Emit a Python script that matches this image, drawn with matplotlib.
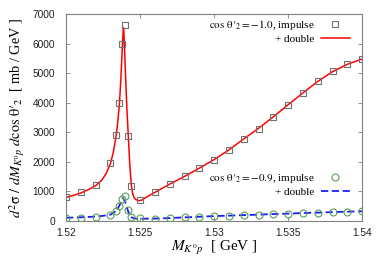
import matplotlib
matplotlib.use('Agg')
import matplotlib.pyplot as plt
from matplotlib.lines import Line2D

########################################################### Data ###########################################################

# impulse points, cos theta'_2 = -1.0 (squares) and -0.9 (circles)
pt_x = [1.520, 1.521, 1.522, 1.523, 1.5234, 1.5236, 1.5238, 1.5240, 1.5242, 1.5244,
        1.525, 1.526, 1.527, 1.528, 1.529, 1.530, 1.531, 1.532, 1.533, 1.534,
        1.535, 1.536, 1.537, 1.538, 1.539, 1.540]
sq_y = [800, 970, 1230, 1960, 2900, 3990, 5990, 6640, 2890, 1180,
        710, 975, 1255, 1510, 1785, 2080, 2410, 2775, 3125, 3535,
        3935, 4350, 4745, 5075, 5335, 5495]
ci_y = [100, 115, 145, 205, 345, 495, 745, 835, 365, 130,
        85, 80, 100, 124, 147, 169, 182, 203, 214, 237,
        250, 270, 283, 304, 316, 328]

# impulse + double curves
red_x = [1.5200, 1.5205, 1.5210, 1.5215, 1.5220, 1.5224, 1.5227, 1.5230, 1.5232, 1.5234,
         1.5235, 1.5236, 1.5237, 1.5238, 1.52387, 1.5239, 1.5240, 1.5241, 1.5242, 1.5243,
         1.5244, 1.5245, 1.5246, 1.5247, 1.5249, 1.5251, 1.5255, 1.5260, 1.527, 1.528,
         1.529, 1.530, 1.531, 1.532, 1.533, 1.534, 1.535, 1.536, 1.537, 1.538,
         1.539, 1.540]
red_y = [800, 870, 950, 1060, 1200, 1380, 1600, 1950, 2350, 2950,
         3400, 3950, 4800, 5900, 6550, 6450, 5150, 3900, 2900, 1950,
         1250, 920, 790, 730, 690, 705, 830, 970, 1250, 1510,
         1790, 2080, 2410, 2780, 3140, 3530, 3940, 4340, 4730, 5060,
         5310, 5490]

blue_x = [1.520, 1.521, 1.522, 1.5225, 1.523, 1.5233, 1.5235, 1.5237, 1.52385, 1.5240,
          1.5241, 1.5242, 1.5243, 1.5244, 1.5246, 1.5248, 1.525, 1.526, 1.527, 1.528,
          1.529, 1.530, 1.531, 1.532, 1.533, 1.534, 1.535, 1.536, 1.537, 1.538,
          1.539, 1.540]
blue_y = [110, 125, 150, 175, 215, 310, 430, 620, 780, 640,
          470, 320, 200, 130, 90, 75, 75, 82, 100, 122,
          145, 165, 182, 200, 215, 235, 250, 270, 283, 302,
          316, 328]

x_ticks = [1.52, 1.525, 1.53, 1.535, 1.54]
y_ticks = [0, 1000, 2000, 3000, 4000, 5000, 6000, 7000]

########################################################### Plot ###########################################################

plt.rcParams['mathtext.fontset'] = 'stix'
plt.rcParams['font.family'] = 'Liberation Sans'

fig = plt.figure(figsize=(3.82, 2.70), dpi=100)
ax = fig.add_axes([0.173, 0.1815, 0.775, 0.765])

sq_col = '#707070'
ci_col = '#5a9e5a'

ax.plot(red_x, red_y, color='#ff0000', lw=1.1, zorder=2)
ax.plot(pt_x, sq_y, ls='none', marker='s', ms=5, mfc='none', mec=sq_col, mew=0.8, zorder=3)
ax.plot(blue_x, blue_y, color='#1a1aff', lw=1.3, dashes=(4, 2), zorder=2)
ax.plot(pt_x, ci_y, ls='none', marker='o', ms=5, mfc='none', mec=ci_col, mew=0.8, zorder=3)

ax.set_xlim(1.52, 1.54)
ax.set_ylim(0, 7000)
ax.set_xticks(x_ticks)
ax.set_xticklabels(['1.52', '1.525', '1.53', '1.535', '1.54'])
ax.set_yticks(y_ticks)

for s in ax.spines.values():
    s.set_color('#808080')
    s.set_linewidth(0.8)
ax.tick_params(direction='in', top=True, right=True, length=3, width=0.6, color='#808080',
               labelsize=7.3, labelcolor='#202020')
ax.tick_params(axis='y', pad=8)
ax.tick_params(axis='x', pad=5)

theta = "\\mathrm{\u03b8\u2032}_{2}"

ax.set_xlabel(r"$M_{K^0p}$  [ GeV ]", family='Liberation Serif', fontsize=11, labelpad=1)
ax.set_ylabel(r"$d^2\mathrm{\sigma}\ /\ dM_{K^0p}\ d\mathrm{cos}\ " + theta + r"$  [ mb / GeV ]",
              family='Liberation Serif', fontsize=10.3, labelpad=4)

lab_font = {'family': 'Liberation Serif', 'size': 8}

h1 = [Line2D([], [], ls='none', marker='s', ms=5, mfc='none', mec=sq_col, mew=0.8),
      Line2D([], [], color='#ff0000', lw=1.1)]
leg1 = ax.legend(h1, [r"$\mathrm{cos}\ " + theta + r" = -1.0$, impulse", "+ double"],
                 loc='upper right', bbox_to_anchor=(0.985, 1.02), frameon=False,
                 markerfirst=False, prop=lab_font, handlelength=2.6, handletextpad=0.6,
                 labelspacing=0.17, borderpad=0.2)
ax.add_artist(leg1)

h2 = [Line2D([], [], ls='none', marker='o', ms=5, mfc='none', mec=ci_col, mew=0.8),
      Line2D([], [], color='#1a1aff', lw=1.3, dashes=(4, 2))]
ax.legend(h2, [r"$\mathrm{cos}\ " + theta + r" = -0.9$, impulse", "+ double"],
          loc='upper right', bbox_to_anchor=(0.985, 0.274), frameon=False,
          markerfirst=False, prop=lab_font, handlelength=2.6, handletextpad=0.6,
          labelspacing=0.17, borderpad=0.2)

fig.savefig('out.png', dpi=100)
